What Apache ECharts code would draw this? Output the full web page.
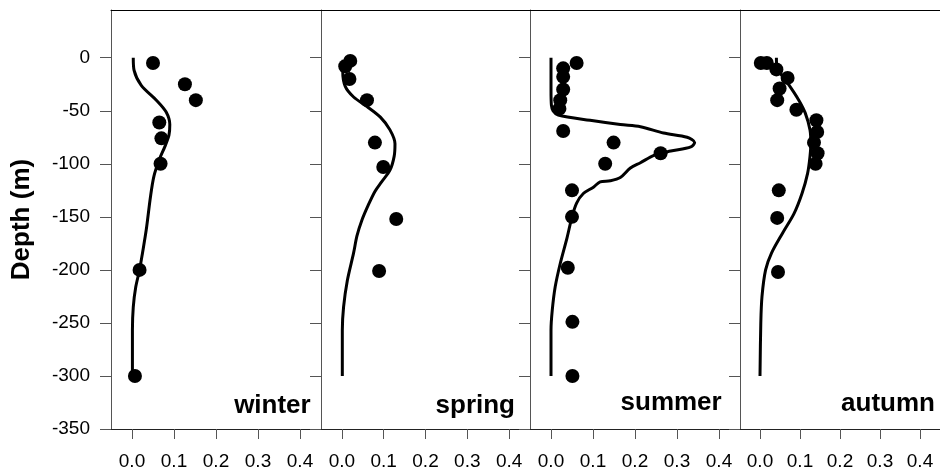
<!DOCTYPE html>
<html>
<head>
<meta charset="utf-8">
<script src="https://cdn.jsdelivr.net/npm/echarts@6/dist/echarts.min.js"></script>
<style>html,body{margin:0;padding:0;background:#fff}#c{width:940px;height:472px}</style>
</head>
<body>
<div id="c"></div>
<script>
// ---- data ----
const panelNames = ['winter', 'spring', 'summer', 'autumn'];
const xTicks = [0, 0.1, 0.2, 0.3, 0.4];
const yTicks = [-350, -300, -250, -200, -150, -100, -50, 0];

const winterDotX = [0.050, 0.126, 0.152, 0.065, 0.070, 0.068, 0.018, 0.007];
const winterDotDepth = [-5, -25, -40, -61, -76, -100, -200, -300];
const winterCurveX = [0.003, 0.005, 0.022, 0.058, 0.081, 0.090, 0.088, 0.078, 0.065, 0.052, 0.044, 0.034, 0.025, 0.018, 0.009, 0.003, 0.001, 0.001];
const winterCurveDepth = [0, -12, -26, -40, -51, -63, -73, -84, -96, -112, -131, -162, -184, -200, -216, -235, -257, -300];

const springDotX = [0.020, 0.008, 0.018, 0.060, 0.079, 0.099, 0.130, 0.089];
const springDotDepth = [-3, -8, -20, -40, -80, -103, -152, -201];
const springCurveX = [0.003, 0.002, 0.008, 0.028, 0.060, 0.092, 0.115, 0.127, 0.125, 0.115, 0.095, 0.079, 0.063, 0.048, 0.036, 0.028, 0.013, 0.004, 0.001, 0.001];
const springCurveDepth = [-2, -13, -27, -37, -46, -56, -68, -81, -93, -106, -117, -126, -139, -153, -168, -184, -210, -235, -257, -300];

const summerDotX = [0.061, 0.029, 0.029, 0.029, 0.022, 0.020, 0.029, 0.149, 0.129, 0.261, 0.050, 0.050, 0.040, 0.051, 0.051];
const summerDotDepth = [-5, -10, -18, -30, -40, -48, -69, -80, -100, -90, -125, -150, -198, -249, -300];
const summerCurveX = [0, 0, 0.001, 0.005, 0.017, 0.093, 0.165, 0.213, 0.268, 0.324, 0.342, 0.333, 0.285, 0.245, 0.213, 0.189, 0.165, 0.141, 0.117, 0.101, 0.077, 0.061, 0.050, 0.038, 0.022, 0.010, 0.003, 0, 0];
const summerCurveDepth = [0, -30, -45, -50, -54, -59, -63, -65, -71, -75, -80, -84, -88, -92, -99, -104, -113, -116, -117, -122, -128, -137, -150, -170, -194, -216, -238, -257, -300];

const autumnDotX = [0.002, 0.017, 0.041, 0.069, 0.049, 0.043, 0.091, 0.141, 0.143, 0.135, 0.144, 0.139, 0.047, 0.043, 0.045];
const autumnDotDepth = [-5, -5, -11, -19, -29, -40, -49, -59, -70, -80, -90, -100, -125, -151, -202];
const autumnCurveX = [0.041, 0.043, 0.053, 0.073, 0.097, 0.113, 0.125, 0.127, 0.125, 0.119, 0.105, 0.085, 0.057, 0.029, 0.014, 0.005, 0.002, 0.000];
const autumnCurveDepth = [0, -10, -16, -26, -40, -52, -68, -81, -93, -109, -128, -147, -165, -184, -200, -225, -250, -300];

// ---- build ----
const dots = [[winterDotX, winterDotDepth], [springDotX, springDotDepth], [summerDotX, summerDotDepth], [autumnDotX, autumnDotDepth]];
const curves = [[winterCurveX, winterCurveDepth], [springCurveX, springCurveDepth], [summerCurveX, summerCurveDepth], [autumnCurveX, autumnCurveDepth]];
const zip = (a, b) => a.map((v, i) => [v, b[i]]);

const FONT = '"Liberation Sans", Arial, Helvetica, sans-serif';
const lefts = [111, 321, 530, 740];
const widths = [210, 209, 210, 210];
const labelPos = [[310.7, 406], [515, 406], [721.7, 403], [935, 404]];

const grid = [], xAxis = [], yAxis = [], series = [], graphic = [];
for (let i = 0; i < 4; i++) {
  grid.push({ left: lefts[i], top: 10, width: widths[i], height: 419, containLabel: false });
  xAxis.push({
    type: 'value', gridIndex: i, min: -0.05, max: 0.45, position: 'bottom',
    axisLine: { show: true, onZero: false, lineStyle: { color: '#222', width: 1 } },
    axisTick: { show: true, inside: false, length: 10, lineStyle: { color: '#555' }, customValues: xTicks },
    axisLabel: { show: true, customValues: xTicks, formatter: v => v.toFixed(1), fontSize: 19, color: '#000', fontFamily: FONT, margin: 23 },
    splitLine: { show: false }
  });
  yAxis.push({
    type: 'value', gridIndex: i, min: -350, max: 45, position: 'left',
    name: i === 0 ? 'Depth (m)' : '', nameLocation: 'middle', nameGap: 76, nameRotate: 90,
    nameTextStyle: { fontSize: 26, fontWeight: 'bold', color: '#000', fontFamily: FONT },
    axisLine: { show: true, onZero: false, lineStyle: { color: '#555', width: 1 } },
    axisTick: { show: true, inside: false, length: 11, lineStyle: { color: '#555' }, customValues: yTicks },
    axisLabel: { show: i === 0, customValues: yTicks, fontSize: 19, color: '#000', fontFamily: FONT, margin: 21 },
    splitLine: { show: false }
  });
  series.push({
    type: 'line', xAxisIndex: i, yAxisIndex: i, data: zip(curves[i][0], curves[i][1]),
    smooth: 0.3, symbol: 'none', lineStyle: { color: '#000', width: 3 }, z: 2, animation: false
  });
  series.push({
    type: 'scatter', xAxisIndex: i, yAxisIndex: i, data: zip(dots[i][0], dots[i][1]),
    symbol: 'circle', symbolSize: 14, itemStyle: { color: '#000', opacity: 1 }, z: 3, animation: false
  });
  graphic.push({
    type: 'text', x: labelPos[i][0], y: labelPos[i][1], z: 10,
    style: { text: panelNames[i], fontSize: 26, fontWeight: 'bold', fontFamily: FONT, fill: '#000', align: 'right', verticalAlign: 'middle' }
  });
}
// top border axes
for (let i = 0; i < 4; i++) {
  xAxis.push({
    type: 'value', gridIndex: i, min: -0.05, max: 0.45, position: 'top',
    axisLine: { show: true, onZero: false, lineStyle: { color: '#000', width: 1 } },
    axisTick: { show: false }, axisLabel: { show: false }, splitLine: { show: false }
  });
}

const chart = echarts.init(document.getElementById('c'), null, { renderer: 'canvas' });
chart.setOption({ animation: false, backgroundColor: '#fff', grid, xAxis, yAxis, series, graphic });
</script>
</body>
</html>
